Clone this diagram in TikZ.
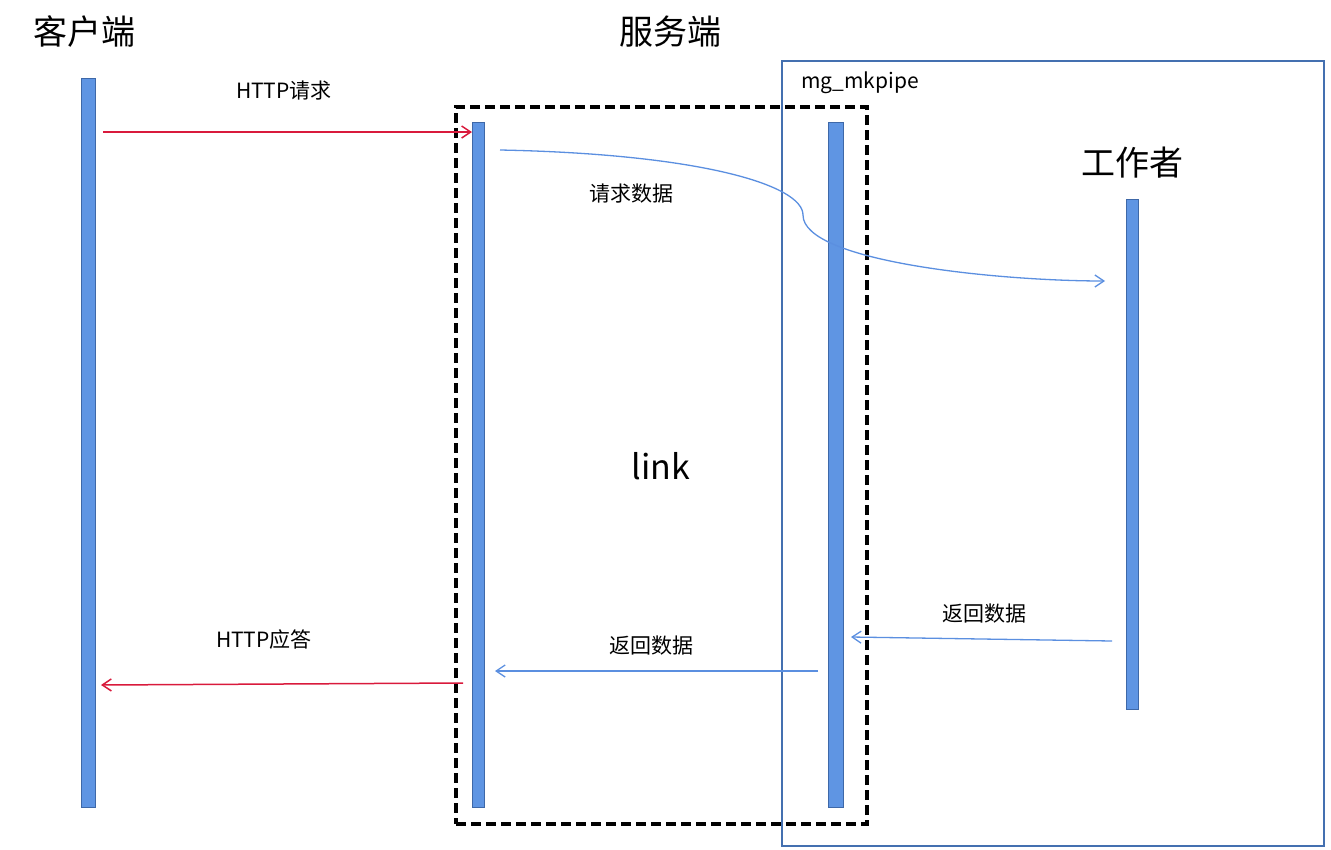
\documentclass[tikz,border=0pt]{standalone}
\usepackage{fontspec}
\setmainfont{Noto Sans CJK SC}
\usetikzlibrary{arrows.meta}
\definecolor{barfill}{HTML}{5F95E3}
\definecolor{barline}{HTML}{3E68A8}
\definecolor{boxblue}{HTML}{4470B0}
\definecolor{ared}{HTML}{D91A3C}
\definecolor{ablue}{HTML}{5B8FE0}
\begin{document}
\begin{tikzpicture}[x=1pt,y=-1pt,
  bar/.style={draw=barline,fill=barfill,line width=0.8pt,inner sep=0pt},
  title/.style={font=\fontsize{34}{36}\selectfont},
  lab/.style={font=\fontsize{21}{23}\selectfont},
  red/.style={draw=ared,line width=1.5pt,-{Straight Barb[length=9pt,width=12pt]}},
  blu/.style={draw=ablue,line width=1.3pt,-{Straight Barb[length=9pt,width=12pt]}}]
\useasboundingbox (0,0) rectangle (1331,849);
\node[draw=boxblue,line width=1.3pt,minimum width=542pt,minimum height=785pt,inner sep=0pt] (pipe) at (1053,453.5) {};
\node[draw=black,line width=3.5pt,dash pattern=on 10pt off 5pt,minimum width=411pt,minimum height=717pt,inner sep=0pt] (link) at (661.5,465.5) {};
\node[bar,minimum width=14pt,minimum height=729pt] (c) at (88,442.5) {};
\node[bar,minimum width=12pt,minimum height=685pt] (l) at (478,464.5) {};
\node[bar,minimum width=15pt,minimum height=685pt] (r) at (835.5,464.5) {};
\node[bar,minimum width=12pt,minimum height=510pt] (w) at (1132,454) {};
\node[title] (t1) at (85,32) {客户端};
\node[title] (t2) at (670,32) {服务端};
\node[title] (t3) at (1132,163) {工作者};
\node[font=\fontsize{34}{36}\selectfont] (lk) at (661,466) {link};
\node[lab] (mg) at (860,83) {mg\_mkpipe};
\node[lab] (h1) at (284,91) {HTTP请求};
\node[lab] (q) at (631,194) {请求数据};
\node[lab] (f1) at (984,614) {返回数据};
\node[lab] (f2) at (651,646) {返回数据};
\node[lab] (h2) at (264,640) {HTTP应答};
\coordinate (a1) at (103,132); \coordinate (a2) at (472,132);
\coordinate (b1) at (500,150); \coordinate (bm) at (803,215); \coordinate (b2) at (1105,281);
\coordinate (c1) at (1112,641); \coordinate (c2) at (851,637);
\coordinate (d1) at (818,671); \coordinate (d2) at (495,671);
\coordinate (e1) at (463,683); \coordinate (e2) at (101,685);
\draw[red] (a1) -- (a2);
\draw[blu] (b1) .. controls (700,154) and (803,185) .. (bm) .. controls (803,262) and (1000,281) .. (b2);
\draw[blu] (c1) -- (c2);
\draw[blu] (d1) -- (d2);
\draw[red] (e1) -- (e2);
\end{tikzpicture}
\end{document}
